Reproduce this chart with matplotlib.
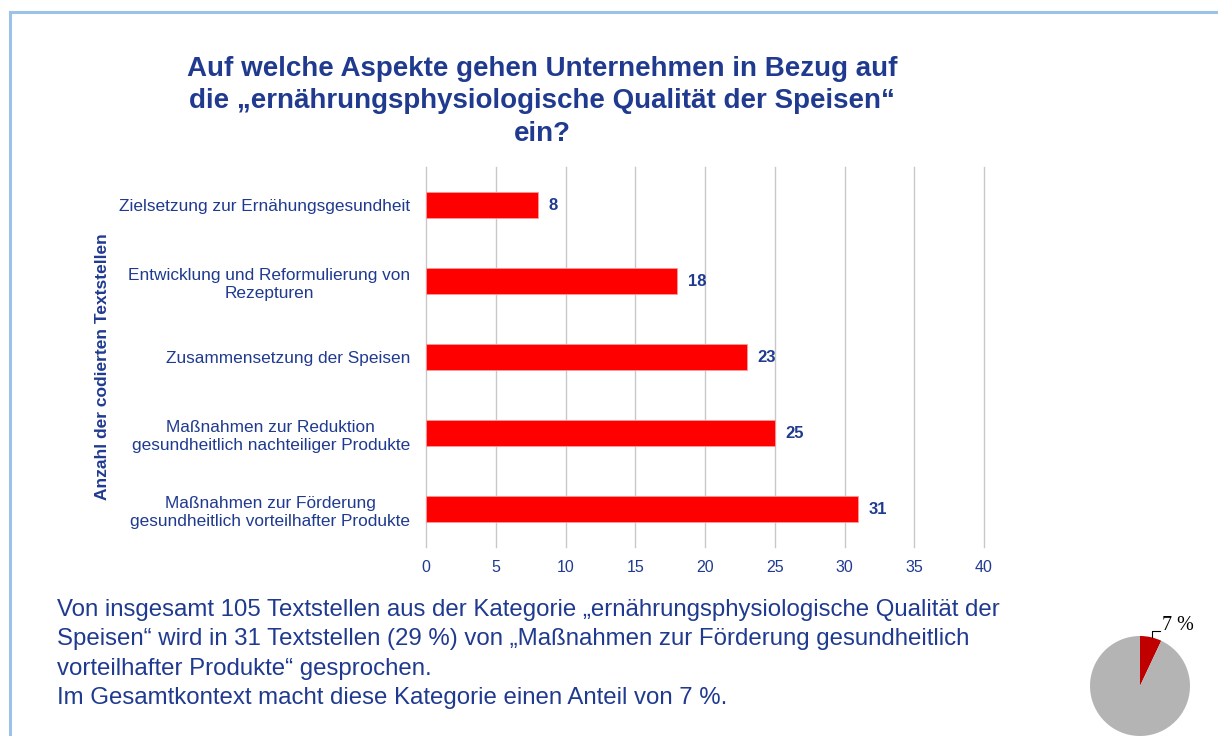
import matplotlib.pyplot as plt
from matplotlib.lines import Line2D

plt.rcParams['font.family'] = ['Liberation Sans', 'DejaVu Sans']

categories = [
    'Zielsetzung zur Ernähungsgesundheit',
    'Entwicklung und Reformulierung von\nRezepturen',
    'Zusammensetzung der Speisen',
    'Maßnahmen zur Reduktion\ngesundheitlich nachteiliger Produkte',
    'Maßnahmen zur Förderung\ngesundheitlich vorteilhafter Produkte',
]
counts = [8, 18, 23, 25, 31]
x_ticks = [0, 5, 10, 15, 20, 25, 30, 35, 40]

pie_values = [7, 93]
pie_label = '7 %'

title = ('Auf welche Aspekte gehen Unternehmen in Bezug auf\n'
         'die „ernährungsphysiologische Qualität der Speisen“\nein?')
note = ('Von insgesamt 105 Textstellen aus der Kategorie „ernährungsphysiologische Qualität der\n'
        'Speisen“ wird in 31 Textstellen (29 %) von „Maßnahmen zur Förderung gesundheitlich\n'
        'vorteilhafter Produkte“ gesprochen.\n'
        'Im Gesamtkontext macht diese Kategorie einen Anteil von 7 %.')

navy = '#1f3a8f'
W, H = 1218, 736
fig = plt.figure(figsize=(W / 100, H / 100), dpi=100)

# slide frame
fig.add_artist(Line2D([9.5 / W, 1], [1 - 11.5 / H] * 2, color='#9cc2e8', lw=2.2))
fig.add_artist(Line2D([9.5 / W] * 2, [0, 1 - 11.5 / H], color='#9cc2e8', lw=2.2))

ax = fig.add_axes([426 / W, 1 - 547 / H, (984 - 426) / W, (547 - 167) / H])
pos = list(range(len(categories)))
ax.barh(pos, counts, height=0.35, color='#ff0000', edgecolor='#ff9999', lw=0.6, zorder=3)
for p, c in zip(pos, counts):
    ax.text(c + 0.75, p, str(c), va='center', ha='left', fontsize=12,
            fontweight='bold', color=navy)

ax.set_xlim(0, 40)
ax.set_ylim(4.5, -0.5)
ax.set_xticks(x_ticks)
ax.set_yticks(pos)
ax.set_yticklabels(categories, linespacing=1.3)
for lab in ax.get_yticklabels():
    lab.set_multialignment('center')
ax.tick_params(axis='x', length=0, labelsize=11.5, labelcolor=navy, pad=9)
ax.tick_params(axis='y', length=0, labelsize=12.4, labelcolor=navy, pad=11.5)
for s in ax.spines.values():
    s.set_visible(False)
ax.grid(axis='x', color='#c8c8c8', lw=1, zorder=0)
for gl in ax.get_xgridlines():
    gl.set_clip_on(False)
ax.axvline(0, color='#c9d6ee', lw=1.2, zorder=1)

fig.text(103 / W, 1 - 367 / H, 'Anzahl der codierten Textstellen', rotation=90,
         ha='center', va='center', fontsize=12.5, fontweight='bold', color=navy)

fig.text(542 / W, 1 - 101.5 / H, title, ha='center', va='center', fontsize=20,
         fontweight='bold', color=navy, linespacing=1.32)

fig.text(57 / W, 1 - 654 / H, note, ha='left', va='center', fontsize=17.3,
         color=navy, linespacing=1.42)

# small pie
pax = fig.add_axes([1090 / W, 0, 100 / W, 100 / H])
pax.pie(pie_values, colors=['#c00000', '#b4b4b4'], startangle=90, counterclock=False,
        radius=1.0)
pax.set_xlim(-1, 1)
pax.set_ylim(-1, 1)
pax.set_aspect('equal')
pax.axis('off')
fig.add_artist(Line2D([1152 / W, 1152 / W, 1160 / W],
                      [1 - 637 / H, 1 - 631 / H, 1 - 631 / H], color='black', lw=0.8))
fig.text(1162 / W, 1 - 626 / H, pie_label, ha='left', va='center', fontsize=14.5,
         family=['Liberation Serif', 'DejaVu Serif'], color='black')

fig.savefig('out.png', dpi=100)
